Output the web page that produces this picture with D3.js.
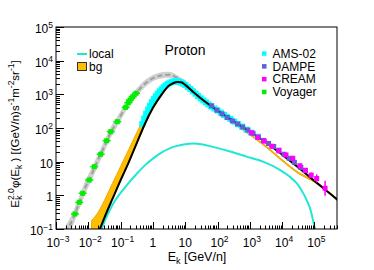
<!DOCTYPE html>
<html><head><meta charset="utf-8">
<script src="https://cdn.jsdelivr.net/npm/d3@7"></script>
<style>body{margin:0;background:#fff}svg{display:block;font-family:"Liberation Sans",Arial,sans-serif}</style>
</head><body><svg id="c" width="374" height="270"></svg>
<script>
// ---------- data ----------
const grayE   = [0.001995,0.003162,0.005012,0.007943,0.01259,0.01995,0.03162,0.05012,0.07943,0.1259,0.1995,0.3162,0.5012,0.7943,1.259,1.995,3.162,5.012,7.943,12.59,19.95,31.62];
const grayMid = [0.0794,0.178,0.537,1.66,4.17,11.2,28.8,75.9,155,339,661,1148,1862,2630,3311,3715,3802,3311,2570,1820,1259,794];
const grayLo  = [0.0501,0.112,0.339,1.047,2.69,7.41,19.5,52.5,110,245,490,871,1445,2089,2692,3020,3090,2754,2188,1585,1122,724];
const grayHi  = [0.126,0.282,0.851,2.63,6.46,17.0,42.7,110,219,468,891,1514,2399,3311,4074,4571,4677,3981,3020,2089,1413,871];

const bgE  = [0.01259,0.01778,0.03162,0.05623,0.1,0.1778,0.3162,0.5623,1,1.778,3.162,5.623,10,31.62,100,316.2,1000,3162,1e4,31620,1e5,316200,562300];
const bgLo = [0.0501,0.0759,0.219,0.794,2.692,9.12,33.1,120.2,363,851,1698,2188,1778,676,295,135,61.7,26.9,10.5,4.467,2.455,1.047,0.661];
const bgHi = [0.178,0.263,0.708,2.29,7.24,22.9,72.4,229,575,1148,1995,2455,1905,724,316,144.5,67.6,29.5,11.5,4.898,2.692,1.148,0.724];

const totE = [0.01995,0.03162,0.05623,0.1,0.1778,0.3162,0.5623,1,1.778,3.162,4.217,5.623,7.499,10,17.78,31.62,100,316.2,1000,3162,1e4,31620,1e5,316200,562300];
const totV = [0.0708,0.219,0.794,2.818,9.55,35.5,131.8,398,933,1820,2138,2344,2291,1905,1175,741,331,158.5,77.6,37.2,16.2,6.76,2.69,1.096,0.692];

const locE = [0.02512,0.03162,0.04467,0.0631,0.1,0.1585,0.3162,0.5623,1,1.778,3.162,5.623,10,17.78,31.62,72.44,245.5,794.3,2570,8710,15850,28180,39810,57540,79430,93330,107200];
const locV = [0.0912,0.166,0.339,0.631,1.175,2.042,4.365,7.762,12.3,18.2,24.5,29.5,33.1,34.7,33.1,27.5,19.95,14.1,10,5.62,3.80,2.29,1.41,0.724,0.316,0.158,0.0891];

const amsE = [0.468,0.537,0.617,0.708,0.813,0.933,1.072,1.230,1.413,1.622,1.862,2.138,2.455,2.818,3.236,3.715,4.266,4.898,5.623,6.457,7.413,8.511,10.0,12.02,14.45,17.38,20.89,25.12,30.2,36.31,43.65,52.48,63.1,79.43,100,125.9,158.5,199.5,251.2,331.1,436.5,575.4,794.3,1122,1778];
const amsV = [131.8,190.5,263,355,457,589,724,871,1047,1230,1413,1622,1820,1995,2138,2291,2399,2455,2455,2344,2239,2089,1905,1660,1445,1230,1047,891,759,661,575,501,437,380,331,288,245,214,186,155,129,110,89.1,72.4,55.0];

const dampeE = [66.1,95.5,138,200,288,417,603,871,1259,1820,2630,3802,5495,7943,11480,16600,24000,38000,52500];
const dampeV = [457,339,263,204,162,132,107,87.1,69.2,53.7,42.7,34.7,28.2,21.9,16.6,12.6,9.55,6.76,5.5];

const creamE  = [1122,1778,2818,4786,7943,13180,21380,35480,52480,79430,117500,213800];
const creamV  = [72.4,52.5,40.7,28.8,20.9,15.8,12.6,7.59,5.5,3.98,3.16,1.62];
const creamLo = [70.0,50.5,39.0,27.5,19.9,14.9,11.7,6.9,4.9,3.3,2.4,0.98];
const creamHi = [74.8,54.5,42.4,30.1,21.9,16.7,13.5,8.3,6.2,4.8,4.2,2.7];

const voyE = [0.00387,0.00526,0.0067,0.0107,0.0153,0.0242,0.037,0.0494,0.079,0.144,0.173,0.195,0.237,0.30];
const voyV = [0.28,0.62,1.15,2.85,7.1,16.6,42,78,154,411,564,677,850,1072];

const xMajor = [1e-3,1e-2,1e-1,1,10,1e2,1e3,1e4,1e5];
const xExp   = ["−3","−2","−1","","","2","3","4","5"];
const xBase  = ["10","10","10","1","10","10","10","10","10"];
const yMajor = [0.1,1,10,1e2,1e3,1e4,1e5];
const yExp   = ["−1","","","2","3","4","5"];
const yBase  = ["10","1","10","10","10","10","10"];

const legendR = [["AMS-02","#00ffff"],["DAMPE","#5f5fd6"],["CREAM","#ff00ff"],["Voyager","#00ee00"]];

// ---------- scales ----------
const L=56,R=337,T=27,B=229;
const x = d3.scaleLog().domain([1e-3,5e5]).range([L,R]);
const y = d3.scaleLog().domain([0.1,1e5]).range([B,T]);
const svg = d3.select("#c");

svg.append("defs").append("clipPath").attr("id","clip")
  .append("rect").attr("x",L).attr("y",T).attr("width",R-L).attr("height",B-T);
const g = svg.append("g").attr("clip-path","url(#clip)");

const zip = (a,b)=>a.map((v,i)=>[v,b[i]]);
const line = d3.line().x(d=>x(d[0])).y(d=>y(d[1])).curve(d3.curveMonotoneX);
const area = d3.area().x(d=>x(d[0])).y0(d=>y(d[1])).y1(d=>y(d[2])).curve(d3.curveMonotoneX);

// gray band + dashed
g.append("path").datum(grayE.map((e,i)=>[e,grayLo[i],grayHi[i]])).attr("d",area).attr("fill","#d0d0d0");
g.append("path").datum(zip(grayE,grayMid)).attr("d",line).attr("fill","none")
  .attr("stroke","#a0a0a0").attr("stroke-width",2).attr("stroke-dasharray","5,3");

// bg band
g.append("path").datum(bgE.map((e,i)=>[e,bgLo[i],bgHi[i]])).attr("d",area)
  .attr("fill","#ffbf00").attr("stroke","#f0a800").attr("stroke-width",1);

// local
g.append("path").datum(zip(locE,locV)).attr("d",line).attr("fill","none")
  .attr("stroke","#1fe8d2").attr("stroke-width",2);

// AMS
g.selectAll(".ams").data(zip(amsE,amsV)).join("rect")
  .attr("x",d=>x(d[0])-3).attr("y",d=>y(d[1])-3).attr("width",6).attr("height",6).attr("fill","#00ffff");

// total model
g.append("path").datum(zip(totE,totV)).attr("d",line).attr("fill","none")
  .attr("stroke","#000").attr("stroke-width",2);

// DAMPE
g.selectAll(".dampe").data(zip(dampeE,dampeV)).join("rect")
  .attr("x",d=>x(d[0])-2.5).attr("y",d=>y(d[1])-2.5).attr("width",5).attr("height",5).attr("fill","#5f5fd6");

// CREAM
const cr = creamE.map((e,i)=>[e,creamV[i],creamLo[i],creamHi[i]]);
g.selectAll(".crerr").data(cr).join("line")
  .attr("x1",d=>x(d[0])).attr("x2",d=>x(d[0])).attr("y1",d=>y(d[2])).attr("y2",d=>y(d[3]))
  .attr("stroke","#ff00ff").attr("stroke-width",1.5);
g.selectAll(".cream").data(cr).join("rect")
  .attr("x",d=>x(d[0])-2.5).attr("y",d=>y(d[1])-2.5).attr("width",5).attr("height",5).attr("fill","#ff00ff");

// Voyager
const vo = zip(voyE,voyV);
g.selectAll(".voyh").data(vo).join("line")
  .attr("x1",d=>x(d[0])-4).attr("x2",d=>x(d[0])+4).attr("y1",d=>y(d[1])).attr("y2",d=>y(d[1]))
  .attr("stroke","#00ee00").attr("stroke-width",1.5);
g.selectAll(".voy").data(vo).join("rect")
  .attr("x",d=>x(d[0])-2.5).attr("y",d=>y(d[1])-2.5).attr("width",5).attr("height",5).attr("fill","#00ee00");

// ---------- frame & axes ----------
svg.append("rect").attr("x",L).attr("y",T).attr("width",R-L).attr("height",B-T)
  .attr("fill","none").attr("stroke","#000").attr("stroke-width",1);

const isMajor = v => Math.abs(Math.log10(v)-Math.round(Math.log10(v)))<1e-6;
const ax = svg.append("g").attr("stroke","#000").attr("stroke-width",1);
x.ticks().forEach(v=>{
  const px = Math.round(x(v))+0.5;
  const len = isMajor(v)?7:3.5;
  ax.append("line").attr("x1",px).attr("x2",px).attr("y1",B).attr("y2",B-len);
});
y.ticks().forEach(v=>{
  const py = Math.round(y(v))+0.5;
  const len = isMajor(v)?8:4;
  ax.append("line").attr("x1",L).attr("x2",L+len).attr("y1",py).attr("y2",py);
});

function label(parent, base, exp, px, py, anchor){
  const t = parent.append("text").attr("x",px).attr("y",py).attr("text-anchor",anchor)
    .attr("font-size",12).attr("fill","#000");
  t.append("tspan").text(base);
  if(exp) t.append("tspan").attr("font-size",8.5).attr("dy",-5).text(exp);
  return t;
}
xMajor.forEach((v,i)=>label(svg,xBase[i],xExp[i],x(v)+(xExp[i]?2:0),247,"middle"));
yMajor.forEach((v,i)=>label(svg,yBase[i],yExp[i],53,y(v)+6,"end"));

// axis titles
const xt = svg.append("text").attr("x",197).attr("y",261).attr("text-anchor","middle").attr("font-size",12.5);
xt.append("tspan").text("E");
xt.append("tspan").attr("font-size",9).attr("dy",3).text("k");
xt.append("tspan").attr("dy",-3).text(" [GeV/n]");

const yt = svg.append("text").attr("transform","translate(19,134) rotate(-90)").attr("text-anchor","middle").attr("font-size",11.5);
yt.append("tspan").text("E");
yt.append("tspan").attr("font-size",8.5).attr("dy",-5.5).text("2.0");
yt.append("tspan").attr("font-size",8.5).attr("dx",-11.5).attr("dy",8.5).text("k");
yt.append("tspan").attr("dx",7.5).attr("dy",-3).text("φ(E");
yt.append("tspan").attr("font-size",8.5).attr("dy",3).text("k");
yt.append("tspan").attr("dy",-3).text(" ) [(GeV/n)s");
yt.append("tspan").attr("font-size",8.5).attr("dy",-5.5).text("-1");
yt.append("tspan").attr("dy",5.5).text("m");
yt.append("tspan").attr("font-size",8.5).attr("dy",-5.5).text("-2");
yt.append("tspan").attr("dy",5.5).text("sr");
yt.append("tspan").attr("font-size",8.5).attr("dy",-5.5).text("-1");
yt.append("tspan").attr("dy",5.5).text("]");

// title
svg.append("text").attr("x",185).attr("y",55).attr("text-anchor","middle").attr("font-size",14).text("Proton");

// left legend
svg.append("line").attr("x1",77).attr("x2",87).attr("y1",54).attr("y2",54).attr("stroke","#1fe8d2").attr("stroke-width",2);
svg.append("text").attr("x",89).attr("y",57.5).attr("font-size",12).text("local");
svg.append("rect").attr("x",77.5).attr("y",62.5).attr("width",9).attr("height",8).attr("fill","#ffbf00").attr("stroke","#333").attr("stroke-width",1);
svg.append("text").attr("x",89).attr("y",71).attr("font-size",12).text("bg");

// right legend
legendR.forEach((d,i)=>{
  const cy = 53.5 + i*12.8;
  svg.append("rect").attr("x",262).attr("y",cy-2.2).attr("width",4.5).attr("height",4.5).attr("fill",d[1]);
  svg.append("text").attr("x",272.5).attr("y",cy+4.3).attr("font-size",12).text(d[0]);
});
</script></body></html>
